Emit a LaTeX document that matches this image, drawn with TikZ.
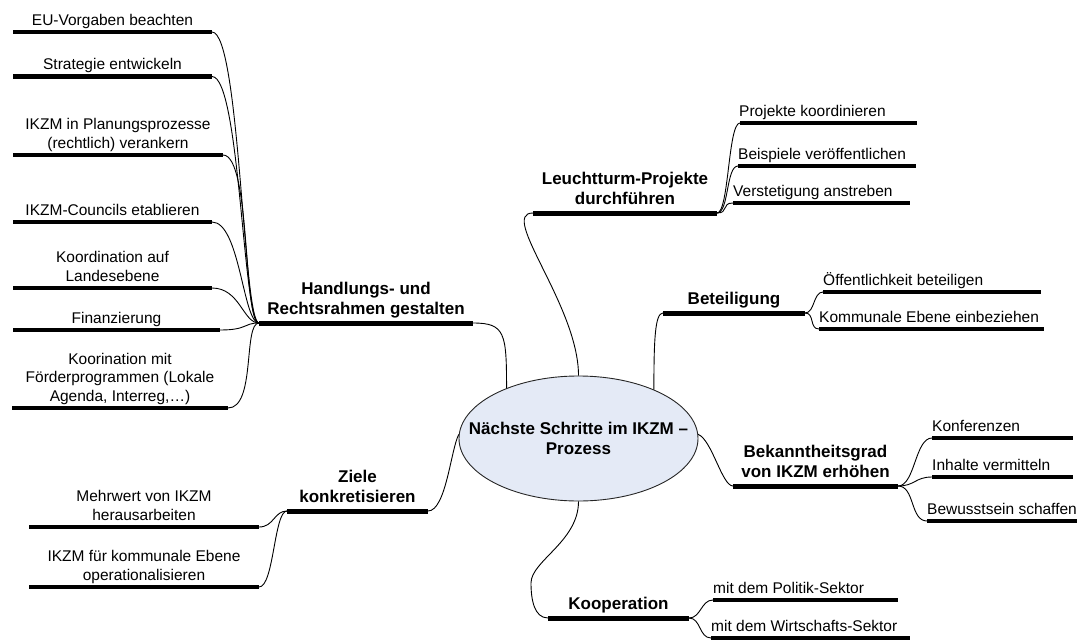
\documentclass[tikz,border=0pt]{standalone}
\usepackage{fontspec}
\setmainfont{Liberation Sans}
\usetikzlibrary{shapes.geometric}
\definecolor{ellfill}{RGB}{228,234,246}
\newcommand\subfnt{\fontsize{15.5}{18.5}\selectfont}
\newcommand\mainfnt{\fontsize{17}{20}\selectfont\bfseries}
\begin{document}
\begin{tikzpicture}[x=1pt,y=1pt,
  subline/.style={line width=4.3pt},
  mainline/.style={line width=5pt},
  conn/.style={line width=0.9pt},
  subtext/.style={font=\subfnt, inner sep=0pt, execute at end node=\strut},
  ctext/.style={subtext, align=center, anchor=south},
  ltext/.style={subtext, align=left, anchor=south west},
  maintext/.style={font=\mainfnt, inner sep=0pt, align=center, anchor=south, execute at end node=\strut},
  hubnode/.style={ellipse, draw=black!85, line width=0.9pt, fill=ellfill, minimum width=239pt, minimum height=125pt, inner sep=0pt}
]
\useasboundingbox (0,0) rectangle (1077,-640);

% ---------- hub ----------
\node[hubnode] (hub) at (578.5,-438.5) {};
\node[font=\mainfnt, align=center, inner sep=0pt] (hubtxt) at (hub.center) {Nächste Schritte im IKZM –\\Prozess};

% ---------- main branches ----------
\coordinate (han-l) at (259,-323); \coordinate (han-r) at (473,-323);
\draw[mainline] (han-l) -- (han-r);
\node[maintext] (han) at (366,-321) {Handlungs- und\\Rechtsrahmen gestalten};

\coordinate (leu-l) at (533,-213); \coordinate (leu-r) at (717,-213);
\draw[mainline] (leu-l) -- (leu-r);
\node[maintext] (leu) at (625,-211) {Leuchtturm-Projekte\\durchführen};

\coordinate (bet-l) at (663,-313); \coordinate (bet-r) at (805,-313);
\draw[mainline] (bet-l) -- (bet-r);
\node[maintext] (bet) at (734,-311) {Beteiligung};

\coordinate (bek-l) at (733,-486); \coordinate (bek-r) at (898,-486);
\draw[mainline] (bek-l) -- (bek-r);
\node[maintext] (bek) at (815.5,-484) {Bekanntheitsgrad\\von IKZM erhöhen};

\coordinate (koop-l) at (548,-618); \coordinate (koop-r) at (689,-618);
\draw[mainline] (koop-l) -- (koop-r);
\node[maintext] (koop) at (618.5,-616) {Kooperation};

\coordinate (zie-l) at (287,-511); \coordinate (zie-r) at (428,-511);
\draw[mainline] (zie-l) -- (zie-r);
\node[maintext] (zie) at (357.5,-509) {Ziele\\konkretisieren};

% main connectors
\draw[conn] (han-r) .. controls +(32,0) and +(0,55) .. (hub.145);
\draw[conn] (leu-l) .. controls +(-35,0) and +(0,70) .. (hub.north);
\draw[conn] (bet-l) .. controls +(-8,0) and +(0,50) .. (hub.33);
\draw[conn] (hub.2) .. controls +(14,-6) and +(-11,0) .. (bek-l);
\draw[conn] (koop-l) .. controls +(-14,0) and +(0,-16) .. ++(-17,35) .. controls +(0,22) and +(0,-40) .. (hub.south);
\draw[conn] (zie-r) .. controls +(18,0) and +(-8,-15) .. (hub.178);

% ---------- Handlungs subs ----------
\coordinate (eu-l) at (13,-32); \coordinate (eu-r) at (212,-32);
\draw[subline] (eu-l) -- (eu-r);
\node[ctext] (eu) at (112.5,-31) {EU-Vorgaben beachten};

\coordinate (str-l) at (13,-76.5); \coordinate (str-r) at (212,-76.5);
\draw[subline] (str-l) -- (str-r);
\node[ctext] (str) at (112.5,-75.5) {Strategie entwickeln};

\coordinate (pla-l) at (13,-155); \coordinate (pla-r) at (223,-155);
\draw[subline] (pla-l) -- (pla-r);
\node[ctext] (pla) at (118,-154) {IKZM in Planungsprozesse\\(rechtlich) verankern};

\coordinate (cou-l) at (13,-222); \coordinate (cou-r) at (212,-222);
\draw[subline] (cou-l) -- (cou-r);
\node[ctext] (cou) at (112.5,-221) {IKZM-Councils etablieren};

\coordinate (kor-l) at (13,-288); \coordinate (kor-r) at (212,-288);
\draw[subline] (kor-l) -- (kor-r);
\node[ctext] (kor) at (112.5,-287) {Koordination auf\\Landesebene};

\coordinate (fin-l) at (13,-330); \coordinate (fin-r) at (220,-330);
\draw[subline] (fin-l) -- (fin-r);
\node[ctext] (fin) at (116.5,-329) {Finanzierung};

\coordinate (foe-l) at (12,-408); \coordinate (foe-r) at (228,-408);
\draw[subline] (foe-l) -- (foe-r);
\node[ctext] (foe) at (120,-407) {Koorination mit\\Förderprogrammen (Lokale\\Agenda, Interreg,…)};

\foreach \c in {eu,str,pla,cou,kor,fin,foe}
  \draw[conn] (\c-r) .. controls +(28,0) and +(-16,0) .. (han-l);

% ---------- Ziele subs ----------
\coordinate (mw-l) at (29,-527); \coordinate (mw-r) at (259,-527);
\draw[subline] (mw-l) -- (mw-r);
\node[ctext] (mw) at (144,-526) {Mehrwert von IKZM\\herausarbeiten};

\coordinate (op-l) at (29,-587); \coordinate (op-r) at (259,-587);
\draw[subline] (op-l) -- (op-r);
\node[ctext] (op) at (144,-586) {IKZM für kommunale Ebene\\operationalisieren};

\foreach \c in {mw,op}
  \draw[conn] (\c-r) .. controls +(15,0) and +(-13,0) .. (zie-l);

% ---------- Leuchtturm subs ----------
\coordinate (pk-l) at (740,-123); \coordinate (pk-r) at (917,-123);
\draw[subline] (pk-l) -- (pk-r);
\node[ltext] (pk) at (739,-122) {Projekte koordinieren};

\coordinate (bv-l) at (738,-166); \coordinate (bv-r) at (916,-166);
\draw[subline] (bv-l) -- (bv-r);
\node[ltext] (bv) at (738,-165) {Beispiele veröffentlichen};

\coordinate (va-l) at (733,-203); \coordinate (va-r) at (910,-203);
\draw[subline] (va-l) -- (va-r);
\node[ltext] (va) at (733,-202) {Verstetigung anstreben};

\foreach \c in {pk,bv,va}
  \draw[conn] (leu-r) .. controls +(12,0) and +(-12,0) .. (\c-l);

% ---------- Beteiligung subs ----------
\coordinate (oe-l) at (823,-292); \coordinate (oe-r) at (1041,-292);
\draw[subline] (oe-l) -- (oe-r);
\node[ltext] (oe) at (823,-291) {Öffentlichkeit beteiligen};

\coordinate (ke-l) at (819,-329); \coordinate (ke-r) at (1044,-329);
\draw[subline] (ke-l) -- (ke-r);
\node[ltext] (ke) at (819,-328) {Kommunale Ebene einbeziehen};

\foreach \c in {oe,ke}
  \draw[conn] (bet-r) .. controls +(10,0) and +(-10,0) .. (\c-l);

% ---------- Bekanntheitsgrad subs ----------
\coordinate (ko-l) at (932,-438); \coordinate (ko-r) at (1073,-438);
\draw[subline] (ko-l) -- (ko-r);
\node[ltext] (ko) at (932,-437) {Konferenzen};

\coordinate (iv-l) at (932,-477); \coordinate (iv-r) at (1073,-477);
\draw[subline] (iv-l) -- (iv-r);
\node[ltext] (iv) at (932,-476) {Inhalte vermitteln};

\coordinate (bs-l) at (927,-521); \coordinate (bs-r) at (1077,-521);
\draw[subline] (bs-l) -- (bs-r);
\node[ltext] (bs) at (927,-520) {Bewusstsein schaffen};

\foreach \c in {ko,iv,bs}
  \draw[conn] (bek-r) .. controls +(17,0) and +(-17,0) .. (\c-l);

% ---------- Kooperation subs ----------
\coordinate (po-l) at (713,-600); \coordinate (po-r) at (898,-600);
\draw[subline] (po-l) -- (po-r);
\node[ltext] (po) at (713,-599) {mit dem Politik-Sektor};

\coordinate (wi-l) at (711,-638); \coordinate (wi-r) at (910,-638);
\draw[subline] (wi-l) -- (wi-r);
\node[ltext] (wi) at (711,-637) {mit dem Wirtschafts-Sektor};

\foreach \c in {po,wi}
  \draw[conn] (koop-r) .. controls +(12,0) and +(-12,0) .. (\c-l);
\end{tikzpicture}
\end{document}
